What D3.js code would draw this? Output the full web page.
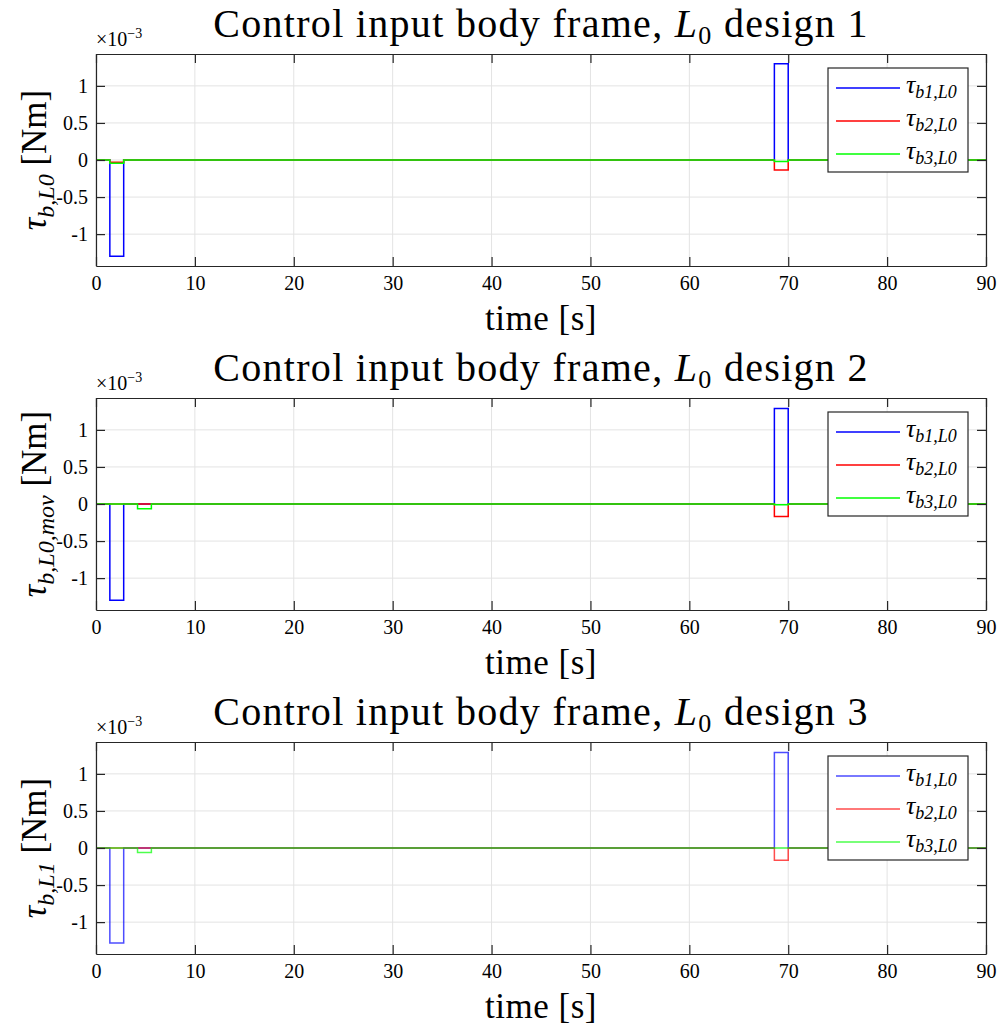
<!DOCTYPE html>
<html>
<head>
<meta charset="utf-8">
<script src="https://cdn.jsdelivr.net/npm/d3@7"></script>
<style>
  html, body { margin: 0; padding: 0; background: #fff; }
  svg text { font-family: "Liberation Serif", "DejaVu Serif", serif; fill: #000; }
</style>
</head>
<body>
<svg id="chart" width="998" height="1027"></svg>
<script>
// Time instants where the torque commands switch (seconds)
const switchTimes = [0, 1.4, 2.8, 4.2, 5.6, 68.6, 70, 90];

// Torque values (x1e-3 Nm) held from each switch time to the next
const design1Tb1 = [0, -1.30, 0, 0, 0, 1.30, 0, 0];
const design1Tb2 = [0, -0.03, 0, 0, 0, -0.135, 0, 0];
const design1Tb3 = [0, -0.045, 0, 0, 0, -0.02, 0, 0];

const design2Tb1 = [0, -1.30, 0, 0, 0, 1.29, 0, 0];
const design2Tb2 = [0, 0, 0, 0, 0, -0.17, 0, 0];
const design2Tb3 = [0, 0, 0, -0.065, 0, -0.01, 0, 0];

const design3Tb1 = [0, -1.28, 0, 0, 0, 1.29, 0, 0];
const design3Tb2 = [0, 0, 0, 0, 0, -0.165, 0, 0];
const design3Tb3 = [0, 0, 0, -0.06, 0, 0, 0, 0];

const xTicks = [0, 10, 20, 30, 40, 50, 60, 70, 80, 90];
const yTicks = [-1, -0.5, 0, 0.5, 1];
const yTickLabels = ["-1", "-0.5", "0", "0.5", "1"];
const legendNames = ["b1", "b2", "b3"];
const titles = ["Control input body frame, ", "Control input body frame, ", "Control input body frame, "];
const designNums = ["1", "2", "3"];
const yLabelSubs = ["b,L0", "b,L0,mov", "b,L1"];

const panels = [
  { series: [design1Tb1, design1Tb2, design1Tb3], opacity: 1 },
  { series: [design2Tb1, design2Tb2, design2Tb3], opacity: 1 },
  { series: [design3Tb1, design3Tb2, design3Tb3], opacity: 0.7 }
];
const colors = ["#0000ff", "#ff0000", "#00ff00"];

const svg = d3.select("#chart");
const left = 96, right = 986, plotH = 212, firstTop = 54, pitch = 344;
const x = d3.scaleLinear().domain([0, 90]).range([left, right]);
const axisColor = "#262626";

panels.forEach((p, i) => {
  const top = firstTop + i * pitch;
  const bottom = top + plotH;
  const y = d3.scaleLinear().domain([-1.43, 1.43]).range([bottom, top]);
  const g = svg.append("g");

  // grid
  g.selectAll(".gx").data(xTicks).enter().append("line")
    .attr("x1", d => x(d)).attr("x2", d => x(d))
    .attr("y1", top).attr("y2", bottom)
    .attr("stroke", "#e3e3e3").attr("stroke-width", 1);
  g.selectAll(".gy").data(yTicks).enter().append("line")
    .attr("x1", left).attr("x2", right)
    .attr("y1", d => y(d)).attr("y2", d => y(d))
    .attr("stroke", "#e3e3e3").attr("stroke-width", 1);

  // data lines
  const line = d3.line()
    .x((d, k) => x(switchTimes[k]))
    .y(d => y(d))
    .curve(d3.curveStepAfter);
  p.series.forEach((vals, s) => {
    g.append("path")
      .attr("d", line(vals))
      .attr("fill", "none")
      .attr("stroke", colors[s])
      .attr("stroke-opacity", p.opacity)
      .attr("stroke-width", 1.5);
  });

  // axes with inward ticks on all four sides
  const bottomAxis = d3.axisBottom(x).tickValues(xTicks).tickSizeInner(-9).tickSizeOuter(0).tickPadding(10);
  const topAxis = d3.axisTop(x).tickValues(xTicks).tickSizeInner(-9).tickSizeOuter(0).tickFormat("");
  const leftAxis = d3.axisLeft(y).tickValues(yTicks).tickSizeInner(-9).tickSizeOuter(0).tickPadding(8)
    .tickFormat((d, k) => yTickLabels[k]);
  const rightAxis = d3.axisRight(y).tickValues(yTicks).tickSizeInner(-9).tickSizeOuter(0).tickFormat("");

  [[bottomAxis, `translate(0,${bottom})`], [topAxis, `translate(0,${top})`],
   [leftAxis, `translate(${left},0)`], [rightAxis, `translate(${right},0)`]].forEach(([ax, tr]) => {
    const a = g.append("g").attr("transform", tr).call(ax);
    a.select(".domain").attr("stroke", axisColor).attr("stroke-width", 1.2);
    a.selectAll(".tick line").attr("stroke", axisColor).attr("stroke-width", 1.2);
    a.selectAll(".tick text").attr("font-size", 20).attr("fill", axisColor)
      .style("font-family", "'Liberation Serif', serif");
  });

  // exponent
  const ex = g.append("text").attr("x", left).attr("y", top - 8).attr("font-size", 20).attr("fill", axisColor);
  ex.append("tspan").text("×10");
  ex.append("tspan").attr("dy", -8).attr("font-size", 14).text("−3");

  // title
  const t = g.append("text").attr("x", (left + right) / 2).attr("y", top - 17)
    .attr("text-anchor", "middle").attr("font-size", 40).attr("letter-spacing", 1.3);
  t.append("tspan").text(titles[i]);
  t.append("tspan").attr("font-style", "italic").text("L");
  t.append("tspan").attr("font-size", 26).attr("dy", 7).text("0");
  t.append("tspan").attr("dy", -7).text(" design " + designNums[i]);

  // x label
  g.append("text").attr("x", (left + right) / 2).attr("y", bottom + 64)
    .attr("text-anchor", "middle").attr("font-size", 35).attr("letter-spacing", 0.5).text("time [s]");

  // y label
  const yl = g.append("text")
    .attr("transform", `translate(46,${(top + bottom) / 2}) rotate(-90)`)
    .attr("text-anchor", "middle").attr("font-size", 35);
  yl.append("tspan").attr("font-style", "italic").text("τ");
  yl.append("tspan").attr("font-style", "italic").attr("font-size", 24).attr("dy", 8).text(yLabelSubs[i]);
  yl.append("tspan").attr("dy", -8).text(" [Nm]");

  // legend
  const lx = 828, ly = top + 14, lw = 140, lh = 104;
  const lg = g.append("g");
  lg.append("rect").attr("x", lx).attr("y", ly).attr("width", lw).attr("height", lh)
    .attr("fill", "#fff").attr("stroke", axisColor).attr("stroke-width", 1.2);
  legendNames.forEach((nm, s) => {
    const cy = ly + 20 + s * 33;
    lg.append("line").attr("x1", lx + 8).attr("x2", lx + 72).attr("y1", cy).attr("y2", cy)
      .attr("stroke", colors[s]).attr("stroke-opacity", p.opacity).attr("stroke-width", 1.4);
    const tx = lg.append("text").attr("x", lx + 78).attr("y", cy + 5).attr("font-size", 26);
    tx.append("tspan").attr("font-style", "italic").text("τ");
    tx.append("tspan").attr("font-style", "italic").attr("font-size", 18).attr("dy", 5).text(nm + ",L0");
  });
});
</script>
</body>
</html>
